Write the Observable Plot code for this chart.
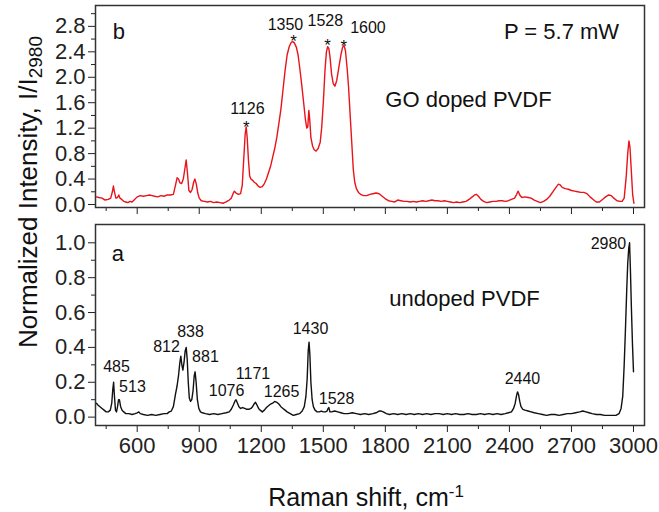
<!DOCTYPE html>
<html>
<head>
<meta charset="utf-8">
<script src="https://cdn.jsdelivr.net/npm/d3@7"></script>
<script src="https://cdn.jsdelivr.net/npm/@observablehq/plot@0.6"></script>
<style>
  html, body { margin: 0; padding: 0; background: #fff; }
  #chart { position: relative; width: 659px; height: 512px; overflow: hidden; font-family: "Liberation Sans", Arial, sans-serif; color: #111; }
  #chart svg { position: absolute; left: 0; overflow: visible; }
  #ylab { position: absolute; left: -172px; top: 177px; width: 400px; height: 30px; line-height: 30px; text-align: center; font-size: 26px; transform: rotate(-90deg); white-space: nowrap; }
  #ylab sub { font-size: 19px; line-height: 0; vertical-align: -0.28em; }
  #xlab { position: absolute; left: 66px; width: 600px; top: 482px; height: 30px; line-height: 30px; text-align: center; font-size: 25px; white-space: nowrap; }
  #xlab sup { font-size: 17px; line-height: 0; vertical-align: 0.55em; }
</style>
</head>
<body>
<div id="chart">
  <div id="ylab">Normalized Intensity, I/I<sub>2980</sub></div>
  <div id="xlab">Raman shift, cm<sup>-1</sup></div>
</div>
<script>
// ---------- data: GO doped PVDF (panel b) ----------
const goShift = [403,415,430,445,460,472,480,485,490,497,505,511,517,525,535,545,555,565,575,585,600,615,630,645,660,672,685,700,715,730,745,760,775,785,793,800,807,815,823,830,837,843,850,858,866,873,879,886,893,900,910,925,940,955,970,985,1000,1015,1030,1045,1055,1065,1070,1078,1090,1100,1108,1115,1122,1127,1132,1138,1144,1150,1158,1166,1175,1185,1195,1205,1215,1225,1235,1245,1255,1265,1275,1285,1295,1305,1315,1325,1335,1345,1352,1360,1370,1378,1386,1395,1405,1413,1420,1425,1430,1434,1440,1448,1456,1465,1475,1485,1492,1500,1508,1515,1521,1527,1533,1540,1548,1556,1565,1575,1585,1593,1600,1607,1615,1622,1630,1638,1645,1652,1660,1670,1680,1695,1710,1725,1740,1755,1770,1785,1800,1815,1830,1845,1860,1875,1890,1905,1920,1935,1950,1965,1980,1995,2010,2025,2040,2055,2070,2085,2100,2115,2130,2145,2160,2175,2190,2205,2220,2232,2240,2250,2262,2275,2290,2305,2320,2335,2350,2365,2380,2395,2410,2425,2435,2442,2450,2460,2475,2490,2505,2520,2535,2550,2565,2580,2595,2610,2625,2637,2645,2655,2670,2685,2700,2715,2730,2745,2760,2775,2790,2805,2820,2835,2850,2865,2880,2892,2905,2920,2935,2945,2955,2965,2972,2978,2983,2990,2996,3002];
const goIntensity = [0.12,0.11,0.10,0.07,0.08,0.10,0.20,0.29,0.20,0.10,0.11,0.15,0.10,0.08,0.05,0.04,0.03,0.05,0.04,0.07,0.12,0.14,0.13,0.14,0.15,0.14,0.13,0.12,0.14,0.13,0.15,0.15,0.16,0.30,0.42,0.40,0.34,0.33,0.40,0.55,0.70,0.50,0.22,0.19,0.24,0.35,0.40,0.32,0.18,0.10,0.06,0.05,0.04,0.05,0.03,0.04,0.03,0.02,0.04,0.07,0.10,0.18,0.21,0.18,0.16,0.17,0.30,0.70,1.10,1.22,1.05,0.70,0.45,0.40,0.38,0.35,0.33,0.29,0.27,0.28,0.33,0.40,0.50,0.60,0.74,0.88,1.05,1.27,1.50,1.80,2.10,2.35,2.48,2.55,2.56,2.54,2.47,2.35,2.15,1.90,1.60,1.35,1.20,1.22,1.48,1.35,1.05,0.92,0.86,0.84,0.88,0.98,1.20,1.60,2.10,2.40,2.48,2.45,2.30,2.05,1.90,1.86,1.95,2.15,2.35,2.47,2.50,2.42,2.15,1.85,1.40,0.95,0.55,0.35,0.25,0.19,0.16,0.14,0.14,0.16,0.17,0.18,0.17,0.13,0.09,0.06,0.05,0.04,0.07,0.06,0.05,0.05,0.04,0.05,0.04,0.05,0.06,0.05,0.06,0.07,0.06,0.06,0.05,0.06,0.05,0.04,0.03,0.04,0.03,0.04,0.05,0.08,0.12,0.15,0.16,0.13,0.08,0.05,0.03,0.04,0.05,0.05,0.06,0.06,0.05,0.06,0.08,0.10,0.16,0.21,0.15,0.11,0.12,0.11,0.10,0.07,0.05,0.03,0.05,0.08,0.13,0.20,0.27,0.32,0.31,0.27,0.25,0.24,0.22,0.21,0.20,0.19,0.19,0.17,0.12,0.08,0.04,0.04,0.08,0.12,0.15,0.14,0.10,0.06,0.05,0.05,0.10,0.45,0.80,1.00,0.90,0.50,0.15,0.02];

// ---------- data: undoped PVDF (panel a) ----------
const pvdfShift = [403,410,420,430,440,450,460,470,477,482,486,490,495,500,505,510,514,520,527,535,545,560,575,590,600,608,615,630,650,670,690,710,730,745,755,765,775,785,793,800,806,811,816,821,827,832,837,842,847,852,858,864,870,876,880,885,891,898,906,915,930,950,970,990,1010,1030,1045,1055,1065,1072,1078,1085,1092,1100,1110,1120,1130,1140,1150,1158,1165,1172,1179,1187,1195,1205,1215,1225,1235,1245,1255,1265,1275,1285,1295,1305,1315,1325,1340,1355,1370,1385,1398,1408,1416,1422,1427,1431,1435,1440,1446,1452,1460,1470,1480,1490,1500,1510,1518,1523,1527,1532,1540,1555,1570,1585,1600,1620,1640,1660,1680,1700,1720,1740,1755,1770,1780,1790,1805,1820,1840,1860,1880,1900,1920,1940,1960,1980,2000,2020,2040,2060,2080,2100,2120,2140,2160,2180,2200,2220,2240,2260,2280,2300,2320,2340,2360,2380,2395,2410,2420,2428,2434,2439,2444,2450,2456,2465,2475,2490,2505,2520,2540,2560,2580,2600,2620,2640,2660,2680,2700,2720,2740,2755,2770,2785,2800,2820,2840,2860,2880,2900,2915,2930,2940,2948,2955,2961,2967,2972,2977,2981,2985,2990,2995,3000];
const pvdfIntensity = [0.08,0.07,0.06,0.05,0.04,0.03,0.03,0.04,0.08,0.16,0.20,0.12,0.04,0.03,0.06,0.10,0.10,0.06,0.04,0.03,0.02,0.02,0.015,0.02,0.025,0.03,0.02,0.015,0.01,0.015,0.01,0.015,0.02,0.02,0.03,0.035,0.06,0.13,0.18,0.24,0.31,0.35,0.30,0.27,0.32,0.38,0.40,0.33,0.20,0.11,0.09,0.10,0.15,0.24,0.26,0.20,0.10,0.05,0.03,0.025,0.02,0.015,0.02,0.015,0.02,0.025,0.03,0.045,0.07,0.09,0.10,0.08,0.06,0.05,0.055,0.05,0.045,0.045,0.05,0.06,0.075,0.085,0.07,0.05,0.04,0.03,0.04,0.055,0.065,0.075,0.08,0.09,0.085,0.075,0.06,0.05,0.04,0.03,0.02,0.01,0.015,0.02,0.035,0.06,0.12,0.22,0.38,0.43,0.36,0.20,0.10,0.06,0.04,0.03,0.03,0.035,0.03,0.03,0.035,0.05,0.055,0.03,0.03,0.035,0.03,0.025,0.02,0.02,0.025,0.02,0.015,0.02,0.015,0.02,0.025,0.035,0.035,0.03,0.02,0.015,0.02,0.015,0.02,0.015,0.02,0.015,0.02,0.015,0.02,0.015,0.02,0.02,0.015,0.02,0.015,0.02,0.015,0.015,0.02,0.015,0.015,0.02,0.015,0.02,0.015,0.02,0.015,0.02,0.025,0.03,0.05,0.08,0.12,0.145,0.13,0.09,0.06,0.045,0.04,0.035,0.03,0.025,0.02,0.015,0.01,0.015,0.015,0.01,0.015,0.02,0.02,0.025,0.03,0.035,0.03,0.025,0.02,0.015,0.015,0.01,0.01,0.01,0.01,0.02,0.05,0.12,0.30,0.50,0.72,0.88,0.97,1.00,0.85,0.62,0.42,0.26];

// ---------- ticks ----------
const xMajorTicks = [600,900,1200,1500,1800,2100,2400,2700,3000];
const xMinorTicks = [450,750,1050,1350,1650,1950,2250,2550,2850];
const topYMajorTicks = [0,0.4,0.8,1.2,1.6,2.0,2.4,2.8];
const topYMinorTicks = [0.2,0.6,1.0,1.4,1.8,2.2,2.6,3.0];
const botYMajorTicks = [0,0.2,0.4,0.6,0.8,1.0];
const botYMinorTicks = [0.1,0.3,0.5,0.7,0.9];

// ---------- annotations ----------
const topPeakNames = ["1126","1350","1528","1600"];
const topPeakLabelX = [1133,1317,1510,1716];
const topPeakLabelY = [1.50,2.83,2.88,2.77];
const topStarX = [1128,1356,1520,1599];
const topStarY = [1.28,2.64,2.57,2.55];
const topNotes = ["b","P = 5.7 mW","GO doped PVDF"];
const topNoteX = [511,2652,2202];
const topNoteY = [2.72,2.72,1.64];

const botPeakNames = ["485","513","812","838","881","1076","1171","1265","1430","1528","2440","2980"];
const botPeakLabelX = [500,577,742,858,930,1032,1160,1298,1438,1564,2463,2879];
const botPeakLabelY = [0.287,0.172,0.405,0.487,0.344,0.153,0.249,0.147,0.507,0.105,0.22,0.994];
const botNotes = ["a","undoped PVDF"];
const botNoteX = [507,2183];
const botNoteY = [0.936,0.679];

const goData = goShift.map((x, i) => ({x, y: goIntensity[i]}));
const pvdfData = pvdfShift.map((x, i) => ({x, y: pvdfIntensity[i]}));
const topPeaks = topPeakNames.map((t, i) => ({t, x: topPeakLabelX[i], y: topPeakLabelY[i], sx: topStarX[i], sy: topStarY[i]}));
const topText = topNotes.map((t, i) => ({t, x: topNoteX[i], y: topNoteY[i]}));
const botPeaks = botPeakNames.map((t, i) => ({t, x: botPeakLabelX[i], y: botPeakLabelY[i]}));
const botText = botNotes.map((t, i) => ({t, x: botNoteX[i], y: botNoteY[i]}));

const FONT = "Liberation Sans, Arial, sans-serif";
const xDomain = [398.4, 3053.2];
const fmt1 = d3.format(".1f");
const TICKFS = 22;

const topPlot = Plot.plot({
  width: 659, height: 220,
  marginLeft: 95, marginRight: 15, marginTop: 5, marginBottom: 13,
  style: {fontFamily: FONT, background: "transparent", color: "#111", overflow: "visible"},
  x: {domain: xDomain},
  y: {domain: [-0.047, 3.128]},
  marks: [
    Plot.axisY({ticks: topYMajorTicks, tickSize: 7, tickPadding: 3, fontSize: TICKFS, tickFormat: fmt1, label: null, color: "#222"}),
    Plot.axisY({ticks: topYMinorTicks, tickSize: 4, tickFormat: () => "", label: null, color: "#222"}),
    Plot.axisX({ticks: xMajorTicks, tickSize: 7, tickFormat: () => "", label: null, color: "#222"}),
    Plot.axisX({ticks: xMinorTicks, tickSize: 4, tickFormat: () => "", label: null, color: "#222"}),
    Plot.line(goData, {x: "x", y: "y", stroke: "#e8141a", strokeWidth: 1.4}),
    Plot.frame({stroke: "#333", strokeWidth: 1.5}),
    Plot.text(topPeaks, {x: "x", y: "y", text: "t", fontSize: 16, fill: "#111"}),
    Plot.text(topPeaks, {x: "sx", y: "sy", text: () => "*", fontSize: 17, dy: 4.5, fill: "#111"}),
    Plot.text(topText, {x: "x", y: "y", text: "t", fontSize: 22, fill: "#111"})
  ]
});
topPlot.style.top = "0px";

const botPlot = Plot.plot({
  width: 659, height: 292,
  marginLeft: 95, marginRight: 15, marginTop: 4, marginBottom: 87,
  style: {fontFamily: FONT, background: "transparent", color: "#111", overflow: "visible"},
  x: {domain: xDomain},
  y: {domain: [-0.048, 1.105]},
  marks: [
    Plot.axisY({ticks: botYMajorTicks, tickSize: 7, tickPadding: 3, fontSize: TICKFS, tickFormat: fmt1, label: null, color: "#222"}),
    Plot.axisY({ticks: botYMinorTicks, tickSize: 4, tickFormat: () => "", label: null, color: "#222"}),
    Plot.axisX({ticks: xMajorTicks, tickSize: 7, tickPadding: 5, fontSize: TICKFS, tickFormat: d => String(d), label: null, color: "#222"}),
    Plot.axisX({ticks: xMinorTicks, tickSize: 4, tickFormat: () => "", label: null, color: "#222"}),
    Plot.line(pvdfData, {x: "x", y: "y", stroke: "#111", strokeWidth: 1.4}),
    Plot.frame({stroke: "#333", strokeWidth: 1.5}),
    Plot.text(botPeaks, {x: "x", y: "y", text: "t", fontSize: 16, fill: "#111"}),
    Plot.text(botText, {x: "x", y: "y", text: "t", fontSize: 22, fill: "#111"})
  ]
});
botPlot.style.top = "220px";

const chart = document.getElementById("chart");
chart.appendChild(topPlot);
chart.appendChild(botPlot);
</script>
</body>
</html>
